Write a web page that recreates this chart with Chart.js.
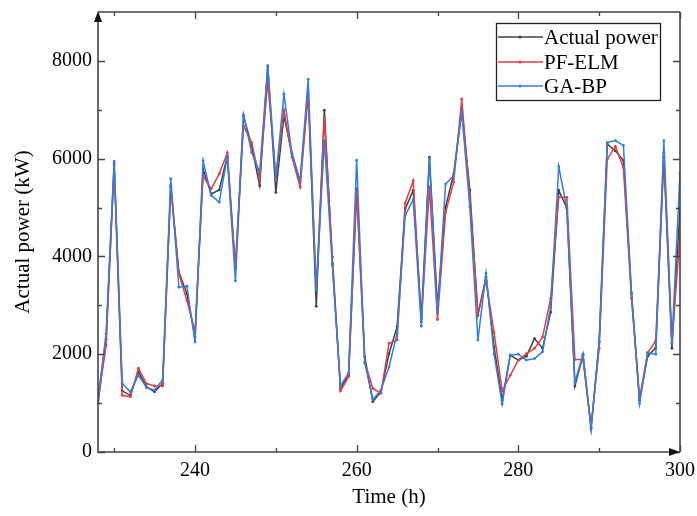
<!DOCTYPE html>
<html>
<head>
<meta charset="utf-8">
<script src="https://cdn.jsdelivr.net/npm/chart.js@4.4.0/dist/chart.umd.min.js"></script>
<style>
  html, body { margin: 0; padding: 0; background: #fff; }
  #wrap { width: 697px; height: 516px; }
</style>
</head>
<body>
<div id="wrap"><canvas id="powerChart" width="697" height="516"></canvas></div>
<script>
// hours on the x axis
const hours = [228, 229, 230, 231, 232, 233, 234, 235, 236, 237, 238, 239, 240, 241, 242, 243, 244, 245, 246, 247,
  248, 249, 250, 251, 252, 253, 254, 255, 256, 257, 258, 259, 260, 261, 262, 263, 264, 265, 266, 267,
  268, 269, 270, 271, 272, 273, 274, 275, 276, 277, 278, 279, 280, 281, 282, 283, 284, 285, 286, 287,
  288, 289, 290, 291, 292, 293, 294, 295, 296, 297, 298, 299, 300];

// measured power (kW)
const actualPower = [1000, 2300, 5900, 1250, 1160, 1640, 1330, 1230, 1400, 5450, 3680, 3240, 2350, 5790, 5280, 5360, 6060, 3750, 6880, 6270,
  5450, 7900, 5310, 6880, 6100, 5520, 7390, 2980, 6990, 3850, 1300, 1570, 5380, 1950, 1030, 1230, 2010, 2560, 4970, 5350,
  2730, 6030, 2970, 5010, 5690, 6990, 5360, 2800, 3580, 2150, 1060, 1980, 1880, 1960, 2320, 2120, 2860, 5350, 4990, 1350,
  1980, 480, 2250, 6300, 6160, 5960, 3240, 1060, 1960, 2130, 6030, 2120, 5000];

// PF-ELM forecast
const pfElm = [1060, 2180, 5850, 1160, 1130, 1710, 1400, 1350, 1350, 5420, 3650, 3100, 2460, 5650, 5380, 5690, 6120, 3780, 6670, 6330,
  5590, 7590, 5620, 6990, 6030, 5420, 7320, 3310, 6840, 3990, 1250, 1540, 5350, 1840, 1300, 1200, 2220, 2290, 5090, 5550,
  2660, 5420, 2710, 4900, 5520, 7220, 5210, 2830, 3510, 2440, 1250, 1570, 1880, 2010, 2120, 2350, 3140, 5210, 5210, 1890,
  1890, 520, 2120, 5990, 6250, 5820, 3140, 1100, 2030, 2270, 6130, 2220, 4460];

// GA-BP forecast
const gaBp = [1100, 2420, 5950, 1400, 1230, 1570, 1320, 1265, 1480, 5590, 3370, 3390, 2250, 5960, 5250, 5110, 6040, 3500, 6890, 6130,
  5720, 7900, 5590, 7320, 6100, 5550, 7620, 3310, 6370, 3820, 1350, 1620, 5970, 1820, 1075, 1265, 1740, 2420, 4840, 5160,
  2570, 6010, 2840, 5480, 5650, 6950, 5010, 2290, 3660, 2000, 980, 1980, 2000, 1880, 1910, 2050, 2970, 5840, 4990, 1420,
  2000, 480, 2250, 6330, 6370, 6270, 3250, 990, 2030, 2000, 6370, 2230, 5700];

const xTicks = [240, 260, 280, 300];
const xMinor = [230, 250, 270, 290];
const yTicks = [0, 2000, 4000, 6000, 8000];
const yMinor = [1000, 3000, 5000, 7000];

const FONT = "'Liberation Serif', 'Times New Roman', serif";
const axisColor = '#444';

function toPoints(vals) {
  return hours.map((h, i) => ({ x: h, y: vals[i] }));
}

const series = [
  { label: 'Actual power', data: actualPower, color: '#404040', order: 2 },
  { label: 'PF-ELM', data: pfElm, color: '#ec3b3b', order: 1 },
  { label: 'GA-BP', data: gaBp, color: '#2f7ee6', order: 0 }
];

// frame, inward ticks, arrows and the boxed legend
const framePlugin = {
  id: 'frame',
  afterDraw(chart) {
    const { ctx, chartArea: a, scales } = chart;
    const xs = scales.x, ys = scales.y;
    ctx.save();
    ctx.strokeStyle = axisColor;
    ctx.lineWidth = 1.6;
    ctx.beginPath();
    ctx.moveTo(a.left, a.top); ctx.lineTo(a.right, a.top);
    ctx.moveTo(a.right, a.top); ctx.lineTo(a.right, a.bottom);
    ctx.moveTo(a.left, a.top + 6); ctx.lineTo(a.left, a.bottom);
    ctx.lineTo(a.right - 6, a.bottom);
    ctx.stroke();

    ctx.lineWidth = 1.3;
    ctx.beginPath();
    const tickX = (v, len) => {
      const px = Math.round(xs.getPixelForValue(v)) + 0.5;
      ctx.moveTo(px, a.bottom); ctx.lineTo(px, a.bottom - len);
      ctx.moveTo(px, a.top); ctx.lineTo(px, a.top + len);
    };
    const tickY = (v, len) => {
      const py = Math.round(ys.getPixelForValue(v)) + 0.5;
      ctx.moveTo(a.left, py); ctx.lineTo(a.left + len, py);
      ctx.moveTo(a.right, py); ctx.lineTo(a.right - len, py);
    };
    xTicks.forEach(v => tickX(v, 7));
    xMinor.forEach(v => tickX(v, 4));
    yTicks.forEach(v => tickY(v, 7));
    yMinor.forEach(v => tickY(v, 4));
    ctx.stroke();

    // arrows
    ctx.fillStyle = '#111';
    ctx.beginPath();
    ctx.moveTo(a.left, a.top - 1);
    ctx.lineTo(a.left - 4, a.top + 10);
    ctx.lineTo(a.left + 4, a.top + 10);
    ctx.closePath();
    ctx.fill();
    ctx.beginPath();
    ctx.moveTo(a.right, a.bottom);
    ctx.lineTo(a.right - 11, a.bottom - 4);
    ctx.lineTo(a.right - 11, a.bottom + 4);
    ctx.closePath();
    ctx.fill();

    // legend
    const box = { x: 496, y: 23, w: 164, h: 77 };
    ctx.strokeStyle = '#222';
    ctx.lineWidth = 1.3;
    ctx.strokeRect(box.x + 0.5, box.y + 0.5, box.w, box.h);
    ctx.font = '21px ' + FONT;
    ctx.textBaseline = 'middle';
    ctx.textAlign = 'left';
    const rowsY = [37, 62, 86];
    series.forEach((s, i) => {
      const y = rowsY[i];
      ctx.strokeStyle = s.color;
      ctx.lineWidth = 1.6;
      ctx.beginPath();
      ctx.moveTo(498, y); ctx.lineTo(543, y);
      ctx.stroke();
      ctx.fillStyle = s.color;
      ctx.beginPath();
      ctx.arc(520, y, 1.6, 0, Math.PI * 2);
      ctx.fill();
      ctx.fillStyle = '#000';
      ctx.fillText(s.label, 544, y + 1);
    });
    ctx.restore();
  }
};

const config = {
  type: 'line',
  data: {
    datasets: series.map(s => ({
      label: s.label,
      data: toPoints(s.data),
      borderColor: s.color,
      backgroundColor: s.color,
      borderWidth: 1.5,
      pointRadius: 1.4,
      pointBorderWidth: 0,
      tension: 0,
      order: s.order
    }))
  },
  options: {
    responsive: false,
    animation: false,
    layout: { padding: { top: 12, right: 17, left: 0, bottom: 0 } },
    plugins: { legend: { display: false }, tooltip: { enabled: false } },
    scales: {
      x: {
        type: 'linear',
        min: 228,
        max: 300,
        grid: { display: false, drawTicks: false },
        border: { display: false },
        afterBuildTicks: scale => { scale.ticks = xTicks.map(v => ({ value: v })); },
        afterFit: scale => {
          scale.height = 64;
          scale.paddingLeft = 0; scale.paddingRight = 0;
        },
        ticks: { color: '#000', font: { family: FONT, size: 20 }, padding: 7, maxRotation: 0,
          callback: v => String(v) },
        title: { display: true, text: 'Time (h)', color: '#000', font: { family: FONT, size: 21 }, padding: { top: 0, bottom: 6 } }
      },
      y: {
        min: 0,
        max: 9000,
        grid: { display: false, drawTicks: false },
        border: { display: false },
        afterBuildTicks: scale => { scale.ticks = yTicks.map(v => ({ value: v })); },
        afterFit: scale => {
          scale.width = 98;
          scale.paddingTop = 0; scale.paddingBottom = 0;
        },
        ticks: { color: '#000', font: { family: FONT, size: 20 }, padding: 6,
          callback: v => String(v) },
        title: { display: true, text: 'Actual power (kW)', color: '#000', font: { family: FONT, size: 21 }, padding: { top: 11, bottom: 0 } }
      }
    }
  },
  plugins: [framePlugin]
};

new Chart(document.getElementById('powerChart'), config);
</script>
</body>
</html>
